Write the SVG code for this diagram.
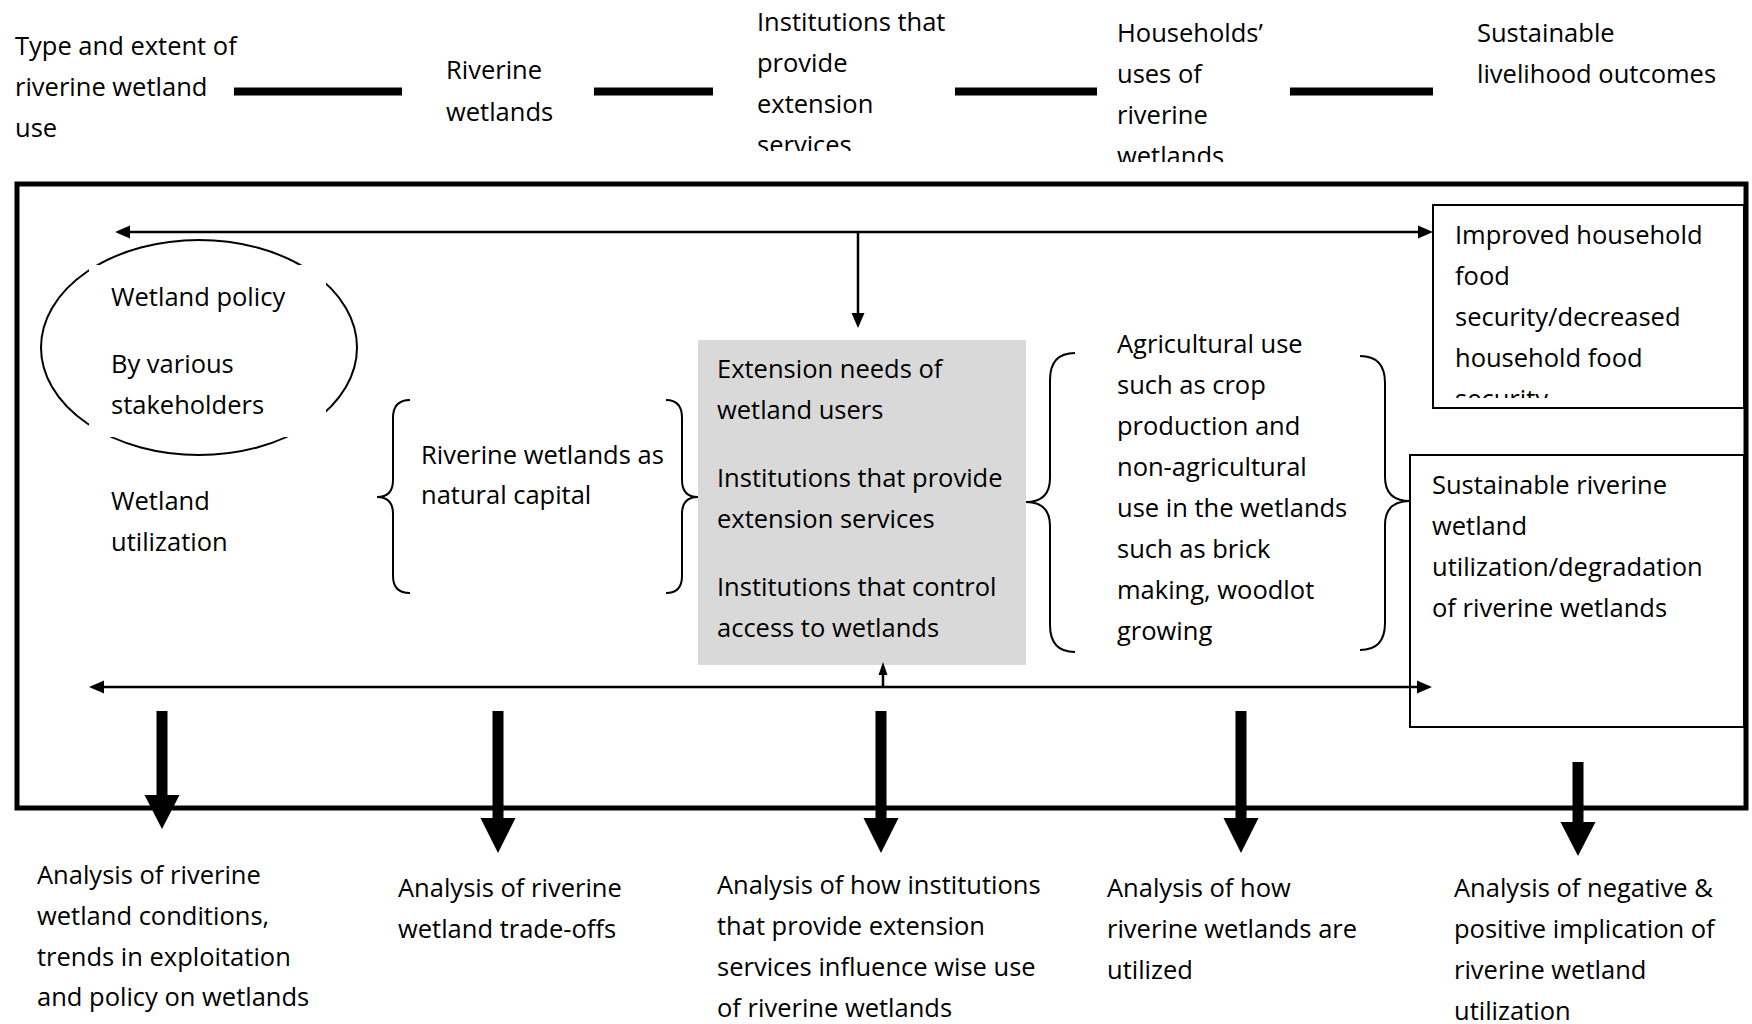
<svg xmlns="http://www.w3.org/2000/svg" width="1752" height="1024" viewBox="0 0 1752 1024">
<defs>
<style>
.t{font-family:"Open Sans","Liberation Sans",sans-serif;font-size:25.5px;fill:#000}
.box{fill:#fff;stroke:#000;stroke-width:2}
.thin{stroke:#000;stroke-width:2.5;fill:none}
.bar{stroke:#000;stroke-width:8}
.brace{fill:none;stroke:#000;stroke-width:2}
.head{fill:#000}
</style>
<clipPath id="clipInst"><rect x="740" y="0" width="260" height="151"/></clipPath>
<clipPath id="clipHouse"><rect x="1100" y="0" width="200" height="162"/></clipPath>
<clipPath id="clipImp"><rect x="1434" y="206" width="309" height="192"/></clipPath>
</defs>
<rect width="1752" height="1024" fill="#fff"/>

<g id="top-type">
<text class="t" x="15" y="55">Type and extent of</text>
<text class="t" x="15" y="96">riverine wetland</text>
<text class="t" x="15" y="137">use</text>
</g>
<g id="top-riverine">
<text class="t" x="446" y="79">Riverine</text>
<text class="t" x="446" y="121">wetlands</text>
</g>
<g id="top-institutions" clip-path="url(#clipInst)">
<text class="t" x="757" y="31">Institutions that</text>
<text class="t" x="757" y="72">provide</text>
<text class="t" x="757" y="113">extension</text>
<text class="t" x="757" y="154">services</text>
</g>
<g id="top-households" clip-path="url(#clipHouse)">
<text class="t" x="1117" y="42">Households’</text>
<text class="t" x="1117" y="83">uses of</text>
<text class="t" x="1117" y="124">riverine</text>
<text class="t" x="1117" y="165">wetlands</text>
</g>
<g id="top-sustainable">
<text class="t" x="1477" y="42">Sustainable</text>
<text class="t" x="1477" y="83">livelihood outcomes</text>
</g>

<g id="frame">
<rect x="17" y="184" width="1729" height="624" fill="none" stroke="#000" stroke-width="5"/>
</g>

<g id="policy">
<ellipse cx="199" cy="347.5" rx="158" ry="107.5" fill="none" stroke="#000" stroke-width="2"/>
<rect x="89" y="265" width="237" height="172" fill="#fff"/>
<text class="t" x="111" y="306">Wetland policy</text>
<text class="t" x="111" y="373">By various</text>
<text class="t" x="111" y="414">stakeholders</text>
</g>
<g id="utilization">
<text class="t" x="111" y="510">Wetland</text>
<text class="t" x="111" y="551">utilization</text>
</g>
<g id="natural-capital">
<path class="brace" d="M410,400 Q393,400 393,418 L393,480 Q393,497 377,497 Q393,497 393,514 L393,576 Q393,593 410,593"/>
<text class="t" x="421" y="464">Riverine wetlands as</text>
<text class="t" x="421" y="504">natural capital</text>
<path class="brace" d="M666,400 Q682,400 682,418 L682,480 Q682,497 698,497 Q682,497 682,514 L682,576 Q682,593 666,593"/>
</g>
<g id="extension">
<rect x="698" y="340" width="328" height="325" fill="#d9d9d9"/>
<text class="t" x="717" y="378">Extension needs of</text>
<text class="t" x="717" y="419">wetland users</text>
<text class="t" x="717" y="487">Institutions that provide</text>
<text class="t" x="717" y="528">extension services</text>
<text class="t" x="717" y="596">Institutions that control</text>
<text class="t" x="717" y="637">access to wetlands</text>
</g>
<g id="uses">
<path class="brace" d="M1075,353 Q1050,353 1050,380 L1050,478 Q1050,502 1026,502 Q1050,502 1050,526 L1050,625 Q1050,652 1075,652"/>
<text class="t" x="1117" y="353">Agricultural use</text>
<text class="t" x="1117" y="394">such as crop</text>
<text class="t" x="1117" y="435">production and</text>
<text class="t" x="1117" y="476">non-agricultural</text>
<text class="t" x="1117" y="517">use in the wetlands</text>
<text class="t" x="1117" y="558">such as brick</text>
<text class="t" x="1117" y="599">making, woodlot</text>
<text class="t" x="1117" y="640">growing</text>
<path class="brace" d="M1360,356 Q1385,356 1385,383 L1385,477 Q1385,501 1410,501 Q1385,501 1385,525 L1385,623 Q1385,650 1360,650"/>
</g>
<g id="food-security">
<rect class="box" x="1433" y="205" width="311" height="203"/>
<g clip-path="url(#clipImp)">
<text class="t" x="1455" y="244">Improved household</text>
<text class="t" x="1455" y="285">food</text>
<text class="t" x="1455" y="326">security/decreased</text>
<text class="t" x="1455" y="367">household food</text>
<text class="t" x="1455" y="408">security</text>
</g>
</g>
<g id="sustainable-use">
<rect class="box" x="1410" y="455" width="334" height="272"/>
<text class="t" x="1432" y="494">Sustainable riverine</text>
<text class="t" x="1432" y="535">wetland</text>
<text class="t" x="1432" y="576">utilization/degradation</text>
<text class="t" x="1432" y="617">of riverine wetlands</text>
</g>

<g id="analysis-1">
<text class="t" x="37" y="884">Analysis of riverine</text>
<text class="t" x="37" y="925">wetland conditions,</text>
<text class="t" x="37" y="966">trends in exploitation</text>
<text class="t" x="37" y="1006">and policy on wetlands</text>
</g>
<g id="analysis-2">
<text class="t" x="398" y="897">Analysis of riverine</text>
<text class="t" x="398" y="938">wetland trade-offs</text>
</g>
<g id="analysis-3">
<text class="t" x="717" y="894">Analysis of how institutions</text>
<text class="t" x="717" y="935">that provide extension</text>
<text class="t" x="717" y="976">services influence wise use</text>
<text class="t" x="717" y="1017">of riverine wetlands</text>
</g>
<g id="analysis-4">
<text class="t" x="1107" y="897">Analysis of how</text>
<text class="t" x="1107" y="938">riverine wetlands are</text>
<text class="t" x="1107" y="979">utilized</text>
</g>
<g id="analysis-5">
<text class="t" x="1454" y="897">Analysis of negative &amp;</text>
<text class="t" x="1454" y="938">positive implication of</text>
<text class="t" x="1454" y="979">riverine wetland</text>
<text class="t" x="1454" y="1020">utilization</text>
</g>

<g id="connectors">
<line class="bar" x1="234" y1="91.5" x2="402" y2="91.5"/>
<line class="bar" x1="594" y1="91.5" x2="713" y2="91.5"/>
<line class="bar" x1="955" y1="91.5" x2="1097" y2="91.5"/>
<line class="bar" x1="1290" y1="91.5" x2="1433" y2="91.5"/>

<line class="thin" x1="128" y1="232" x2="1420" y2="232"/>
<polygon class="head" points="115,232 130,225.5 130,238.5"/>
<polygon class="head" points="1433,232 1418,225.5 1418,238.5"/>
<line class="thin" x1="858" y1="232" x2="858" y2="315"/>
<polygon class="head" points="858,328 851.5,313 864.5,313"/>

<line class="thin" x1="102" y1="687" x2="1419" y2="687"/>
<polygon class="head" points="89,687 104,680.5 104,693.5"/>
<polygon class="head" points="1432,687 1417,680.5 1417,693.5"/>
<line class="thin" x1="883" y1="687" x2="883" y2="673"/>
<polygon class="head" points="883,662 878.5,675 887.5,675"/>

<polygon class="head" points="156.5,711 167.5,711 167.5,795 179.5,795 162,829 144.5,795 156.5,795"/>
<polygon class="head" points="492.5,711 503.5,711 503.5,818 515.5,818 498,853 480.5,818 492.5,818"/>
<polygon class="head" points="875.5,711 886.5,711 886.5,818 898.5,818 881,853 863.5,818 875.5,818"/>
<polygon class="head" points="1235.5,711 1246.5,711 1246.5,818 1258.5,818 1241,853 1223.5,818 1235.5,818"/>
<polygon class="head" points="1572.5,762 1583.5,762 1583.5,822 1595.5,822 1578,856 1560.5,822 1572.5,822"/>
</g>
</svg>
